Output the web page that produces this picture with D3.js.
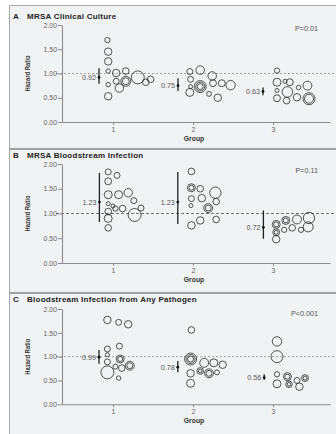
<!DOCTYPE html>
<html>
<head>
<meta charset="utf-8">
<script src="https://cdn.jsdelivr.net/npm/d3@7"></script>
<style>
  html, body { margin: 0; padding: 0; background: #fff; }
  svg { display: block; }
  text { font-family: "Liberation Sans", Arial, sans-serif; }
</style>
</head>
<body>
<script>
// ---- data ----
const groups = [1, 2, 3];
const groupLabels = ["1", "2", "3"];
const yTicks = [0, 0.5, 1, 1.5, 2];
const panelLetters = ["A", "B", "C"];
const panelTitles = ["MRSA Clinical Culture", "MRSA Bloodstream Infection", "Bloodstream Infection from Any Pathogen"];
const pLabels = ["P=0.01", "P=0.11", "P<0.001"];

// pooled hazard ratio per group with 95% CI, and where the CI bar sits on the group axis
const estA = [0.92, 0.75, 0.63], loA = [0.79, 0.64, 0.55], hiA = [1.11, 0.90, 0.71];
const estB = [1.23, 1.23, 0.72], loB = [0.83, 0.79, 0.49], hiB = [1.82, 1.84, 1.06];
const estC = [0.99, 0.78, 0.56], loC = [0.85, 0.67, 0.51], hiC = [1.14, 0.91, 0.63];
const ciPosA = [0.825, 1.8125, 2.875];
const ciPosB = [0.83, 1.81, 2.88];
const ciPosC = [0.825, 1.81, 2.89];

// hospital-level estimates: [group position, hazard ratio, weight, rings]
const bubblesA = [
  [0.93, 1.69, 7, 1], [0.94, 1.45, 14, 1], [0.94, 1.25, 14, 1], [0.94, 1.05, 5, 1],
  [1.04, 1.01, 14, 1], [1.16, 1.05, 11, 1], [0.94, 0.77, 5, 1], [1.04, 0.84, 9, 1],
  [1.08, 0.70, 18, 1], [1.16, 0.84, 25, 2], [1.31, 0.92, 42, 1], [1.41, 0.82, 11, 1],
  [1.47, 0.88, 11, 1], [0.94, 0.53, 14, 1],
  [1.96, 1.04, 9, 1], [2.09, 1.07, 18, 1], [1.97, 0.88, 9, 1], [1.97, 0.73, 4, 1],
  [1.96, 0.61, 16, 1], [2.09, 0.73, 36, 3], [2.24, 0.95, 18, 1], [2.25, 0.80, 12, 1],
  [2.20, 0.58, 6, 1], [2.31, 0.50, 14, 1], [2.36, 0.80, 12, 1], [2.47, 0.76, 22, 1],
  [3.05, 1.06, 7, 1], [3.05, 0.82, 16, 1], [3.15, 0.84, 4, 1], [3.21, 0.82, 12, 1],
  [3.32, 0.71, 5, 1], [3.43, 0.75, 20, 1], [3.05, 0.65, 4, 1], [3.18, 0.62, 28, 1],
  [3.05, 0.49, 12, 1], [3.17, 0.44, 11, 1], [3.30, 0.51, 14, 1], [3.45, 0.48, 36, 2]
];
const bubblesB = [
  [0.94, 1.84, 9, 1], [1.05, 1.77, 9, 1], [0.94, 1.65, 12, 1], [0.94, 1.38, 16, 1],
  [1.07, 1.38, 16, 1], [1.19, 1.42, 18, 1], [1.26, 1.26, 9, 1], [0.94, 1.20, 4, 1],
  [1.00, 1.15, 4, 1], [1.03, 1.10, 7, 1], [1.12, 1.10, 11, 1], [0.94, 1.04, 11, 1],
  [0.94, 0.90, 16, 1], [1.27, 0.97, 42, 1], [1.35, 1.11, 9, 1], [0.94, 0.71, 11, 1],
  [1.98, 1.85, 11, 1], [1.98, 1.52, 16, 2], [2.09, 1.50, 11, 1], [2.28, 1.42, 32, 1],
  [1.98, 1.30, 9, 1], [2.11, 1.31, 14, 1], [2.29, 1.24, 11, 1], [1.975, 1.16, 4, 1],
  [2.19, 1.11, 20, 2], [1.98, 0.76, 14, 1], [2.09, 0.86, 14, 1], [2.29, 0.88, 11, 1],
  [3.04, 0.78, 16, 2], [3.16, 0.86, 16, 2], [3.30, 0.88, 20, 1], [3.45, 0.91, 32, 1],
  [3.44, 0.73, 25, 1], [3.14, 0.67, 7, 1], [3.24, 0.71, 11, 1], [3.35, 0.67, 7, 1],
  [3.04, 0.62, 12, 2], [3.04, 0.48, 14, 1]
];
const bubblesC = [
  [0.93, 1.77, 14, 1], [1.07, 1.72, 9, 1], [1.19, 1.68, 14, 1], [1.08, 1.22, 9, 1],
  [0.93, 1.16, 9, 1], [0.93, 1.04, 4, 1], [1.09, 0.95, 16, 2], [0.93, 0.89, 9, 1],
  [1.03, 0.79, 6, 1], [1.11, 0.76, 11, 1], [1.21, 0.81, 20, 2], [0.93, 0.67, 42, 1],
  [1.07, 0.55, 5, 1],
  [1.98, 1.56, 11, 1], [1.97, 0.95, 36, 3], [2.14, 0.87, 20, 1], [2.26, 0.87, 16, 1],
  [2.37, 0.83, 14, 1], [1.97, 0.65, 14, 1], [2.09, 0.70, 11, 2], [2.20, 0.65, 20, 2],
  [2.30, 0.67, 6, 1], [1.97, 0.44, 16, 1],
  [3.05, 1.32, 22, 1], [3.05, 1.00, 36, 1], [3.05, 0.63, 7, 1], [3.18, 0.58, 16, 2],
  [3.30, 0.50, 9, 1], [3.40, 0.55, 12, 2], [3.05, 0.43, 16, 1], [3.20, 0.42, 11, 2],
  [3.33, 0.37, 14, 1]
];

const panels = [
  { est: estA, lo: loA, hi: hiA, ciPos: ciPosA, bubbles: bubblesA },
  { est: estB, lo: loB, hi: hiB, ciPos: ciPosB, bubbles: bubblesB },
  { est: estC, lo: loC, hi: hiC, ciPos: ciPosC, bubbles: bubblesC }
];

// ---- layout ----
const W = 336, H = 434;
const frameX = 9.5, frameY = 5.5;
const separators = [149, 293];
const layout = [
  { top: 25, bottom: 122, titleY: 18.5, pY: 30.5, dash: "2,2", dashColor: "#9a9a9a" },
  { top: 164, bottom: 263, titleY: 158.2, pY: 173, dash: "3,2", dashColor: "#666" },
  { top: 309, bottom: 404.3, titleY: 302.3, pY: 315.5, dash: "2,2", dashColor: "#9a9a9a" }
];

const svg = d3.select("body").append("svg").attr("width", W).attr("height", H);

svg.append("rect").attr("width", W).attr("height", H).attr("fill", "#fff");
svg.append("rect")
  .attr("x", frameX).attr("y", frameY)
  .attr("width", W - frameX + 2).attr("height", H - frameY + 2)
  .attr("fill", "#f1f2f4").attr("stroke", "#a8a8a8").attr("stroke-width", 1);
separators.forEach(s => {
  svg.append("line").attr("x1", frameX).attr("x2", W).attr("y1", s).attr("y2", s)
    .attr("stroke", "#a0a0a0").attr("stroke-width", 2);
});

const x = d3.scaleLinear().domain([0.3625, 3.7125]).range([62, 330]);
const r = d3.scaleSqrt().domain([0, 100]).range([0, 10]);
const fmt = d3.format(".2f");

panels.forEach((p, i) => {
  const L = layout[i];
  const y = d3.scaleLinear().domain([0, 2]).range([L.bottom, L.top]);
  const g = svg.append("g");

  // title
  const title = g.append("text").attr("y", L.titleY).attr("font-size", 8)
    .attr("font-weight", "bold").attr("fill", "#222").attr("letter-spacing", 0.25);
  title.append("tspan").attr("x", 13).text(panelLetters[i]);
  title.append("tspan").attr("x", 27).text(panelTitles[i]);

  // P value
  g.append("text").attr("x", 318).attr("y", L.pY).attr("text-anchor", "end")
    .attr("font-size", 7.2).attr("fill", "#555").text(pLabels[i]);

  // reference line at HR = 1
  g.append("line").attr("x1", 56).attr("x2", W).attr("y1", y(1)).attr("y2", y(1))
    .attr("stroke", L.dashColor).attr("stroke-width", 0.9).attr("stroke-dasharray", L.dash);

  // axes
  const yAxis = g.append("g").attr("transform", "translate(62,0)")
    .call(d3.axisLeft(y).tickValues(yTicks).tickFormat(fmt).tickSize(4).tickSizeOuter(0).tickPadding(1));
  const xAxis = g.append("g").attr("transform", `translate(0,${L.bottom})`)
    .call(d3.axisBottom(x).tickValues(groups).tickFormat((d, k) => groupLabels[k]).tickSize(3).tickSizeOuter(0).tickPadding(2));
  [yAxis, xAxis].forEach(a => {
    a.select(".domain").attr("stroke", "#8a8a8a").attr("stroke-width", 1.1);
    a.selectAll(".tick line").attr("stroke", "#8a8a8a");
    a.selectAll(".tick text").attr("font-size", 6.9).attr("fill", "#666");
  });

  // axis titles
  g.append("text").attr("x", 194).attr("y", L.bottom + 18.5).attr("text-anchor", "middle")
    .attr("font-size", 6.8).attr("font-weight", "bold").attr("fill", "#333").text("Group");
  g.append("text")
    .attr("transform", `translate(30,${y(1)}) rotate(-90)`)
    .attr("text-anchor", "middle").attr("font-size", 6.5).attr("font-weight", "bold")
    .attr("fill", "#333").attr("textLength", 36).attr("lengthAdjust", "spacingAndGlyphs")
    .text("Hazard Ratio");

  // hospital-level bubbles
  p.bubbles.forEach(([gx, hr, w, rings]) => {
    for (let k = 0; k < rings; k++) {
      g.append("circle").attr("cx", x(gx)).attr("cy", y(hr))
        .attr("r", Math.max(r(w) - k * 1.5, 0.8))
        .attr("fill", "none").attr("stroke", "#2a2a2a").attr("stroke-width", 0.8);
    }
  });

  // pooled estimates with CI
  groups.forEach((grp, k) => {
    const cx = x(p.ciPos[k]);
    g.append("line").attr("x1", cx).attr("x2", cx).attr("y1", y(p.lo[k])).attr("y2", y(p.hi[k]))
      .attr("stroke", "#222").attr("stroke-width", 1.3);
    g.append("circle").attr("cx", cx).attr("cy", y(p.est[k])).attr("r", 1.4).attr("fill", "#111");
    g.append("text").attr("x", cx - 3).attr("y", y(p.est[k]) + 2.4).attr("text-anchor", "end")
      .attr("font-size", 7.2).attr("fill", "#555")
      .text(fmt(p.est[k]));
  });
});
</script>
</body>
</html>
